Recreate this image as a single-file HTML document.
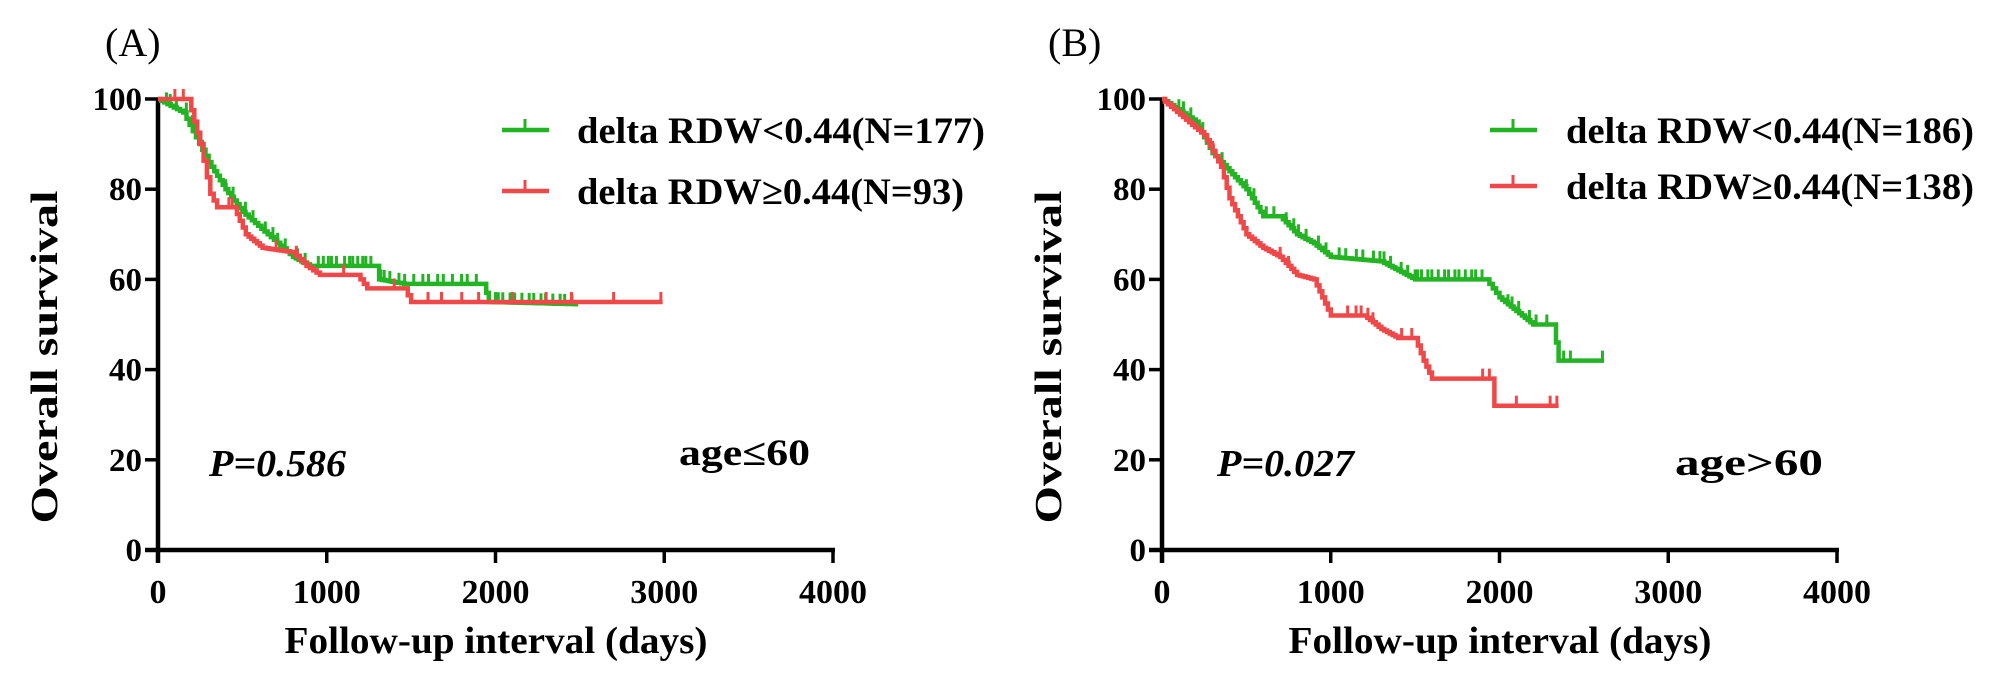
<!DOCTYPE html>
<html><head><meta charset="utf-8">
<style>
html,body{margin:0;padding:0;background:#fff;}
svg{display:block;}
text{font-family:"Liberation Serif",serif;fill:#000;}
.b{font-weight:bold;}
</style></head>
<body>
<svg id="s" width="2008" height="692" viewBox="0 0 2008 692" xmlns="http://www.w3.org/2000/svg">
<g id="g"></g>
<text x="105" y="56" font-size="40">(A)</text>
<text x="1048" y="56" font-size="40">(B)</text>
<!-- legend A -->
<line x1="502" y1="130" x2="549" y2="130" stroke="#22b422" stroke-width="4.5"/><line x1="525" y1="130" x2="525" y2="119" stroke="#22b422" stroke-width="3"/>
<line x1="502" y1="191" x2="549" y2="191" stroke="#f04848" stroke-width="4.5"/><line x1="525" y1="191" x2="525" y2="180" stroke="#f04848" stroke-width="3"/>
<text class="b" x="577" y="143" font-size="37" textLength="408" lengthAdjust="spacingAndGlyphs">delta RDW&lt;0.44(N=177)</text>
<text class="b" x="577" y="204" font-size="37" textLength="387" lengthAdjust="spacingAndGlyphs">delta RDW≥0.44(N=93)</text>
<!-- legend B -->
<line x1="1490" y1="130" x2="1537" y2="130" stroke="#22b422" stroke-width="4.5"/><line x1="1513" y1="130" x2="1513" y2="119" stroke="#22b422" stroke-width="3"/>
<line x1="1490" y1="186" x2="1537" y2="186" stroke="#f04848" stroke-width="4.5"/><line x1="1513" y1="186" x2="1513" y2="175" stroke="#f04848" stroke-width="3"/>
<text class="b" x="1566" y="143" font-size="37" textLength="408" lengthAdjust="spacingAndGlyphs">delta RDW&lt;0.44(N=186)</text>
<text class="b" x="1566" y="199" font-size="37" textLength="408" lengthAdjust="spacingAndGlyphs">delta RDW≥0.44(N=138)</text>
<text class="b" x="209" y="476" font-size="38" font-style="italic" textLength="137" lengthAdjust="spacingAndGlyphs">P=0.586</text>
<text class="b" x="679" y="465" font-size="37" textLength="131" lengthAdjust="spacingAndGlyphs">age≤60</text>
<text class="b" x="1217" y="476" font-size="38" font-style="italic" textLength="137" lengthAdjust="spacingAndGlyphs">P=0.027</text>
<text class="b" x="1675" y="475" font-size="37" textLength="148" lengthAdjust="spacingAndGlyphs">age&gt;60</text>
</svg>
<script>
var g=document.getElementById('g');var NS='http://www.w3.org/2000/svg';
function el(t,a,txt){var e=document.createElementNS(NS,t);for(var k in a)e.setAttribute(k,a[k]);if(txt!==undefined)e.textContent=txt;g.appendChild(e);return e;}
function axes(x0){
 var y0=550,dy=90.2,sx=0.16875;
 el('line',{x1:x0,y1:y0+13,x2:x0,y2:98,stroke:'#000','stroke-width':4.5});
 el('line',{x1:x0-13,y1:y0,x2:x0+677,y2:y0,stroke:'#000','stroke-width':4.5});
 for(var i=0;i<=5;i++){var y=y0-i*dy;el('line',{x1:x0-13,y1:y,x2:x0,y2:y,stroke:'#000','stroke-width':3.5});
  el('text',{x:x0-16,y:y+11,'font-size':33,'text-anchor':'end','class':'b'},String(i*20));}
 for(var j=0;j<=4;j++){var x=x0+j*1000*sx;el('line',{x1:x,y1:y0,x2:x,y2:y0+13,stroke:'#000','stroke-width':3.5});
  var t=String(j*1000);
  var a={x:x,y:603,'font-size':34,'text-anchor':'middle','class':'b'};
  if(t.length==4){a.textLength=68;a.lengthAdjust='spacingAndGlyphs';}
  el('text',a,t);}
 el('text',{x:x0+338,y:653,'font-size':38,'text-anchor':'middle','class':'b',textLength:423,lengthAdjust:'spacingAndGlyphs'},'Follow-up interval (days)');
 var cx=x0-101,cy=357;el('text',{x:cx,y:cy,'font-size':38,'text-anchor':'middle','class':'b',textLength:333,lengthAdjust:'spacingAndGlyphs',transform:'rotate(-90 '+cx+' '+cy+')'},'Overall survival');
}
function curve(x0,knots,col,end,ticks){
 var sx=0.16875,X=function(d){return x0+d*sx},Y=function(s){return 550-s*4.51};
 var d='M'+X(0)+' '+Y(100),step=18;
 for(var k=1;k<knots.length;k++){var a=knots[k-1],b=knots[k];
  if(a[1]==b[1]){continue;}
  var n=Math.max(1,Math.round((b[0]-a[0])/step));
  for(var i=1;i<=n;i++){var t=a[0]+(b[0]-a[0])*i/n,s=a[1]+(b[1]-a[1])*i/n;
   d+=' H'+X(t).toFixed(1)+' V'+Y(s).toFixed(1);}
 }
 d+=' H'+X(end).toFixed(1);
 el('path',{d:d,fill:'none',stroke:col,'stroke-width':4.5,'stroke-linejoin':'miter'});
 function sAt(t){var s=100;for(var k=1;k<knots.length;k++){var a=knots[k-1],b=knots[k];if(t>=b[0])s=b[1];else if(t>a[0]){var n=Math.max(1,Math.round((b[0]-a[0])/step));var i=Math.floor((t-a[0])/(b[0]-a[0])*n);s=a[1]+(b[1]-a[1])*i/n;break;}else break;}return s;}
 ticks.forEach(function(t){var y=Y(sAt(t));el('line',{x1:X(t),y1:y,x2:X(t),y2:y-10,stroke:col,'stroke-width':3});});
}
function rng(a,b,n){var r=[];for(var i=0;i<n;i++)r.push(a+(b-a)*((i*0.618)%1));return r;}
axes(158);axes(1162);
curve(158,[[0,100],[150,97],[300,86],[400,80],[500,75],[650,70],[800,65],[900,63],[1290,63],[1310,60],[1460,59],[1930,59],[1960,55],[2480,54.5]],'#22b422',2490,
 rng(50,300,6).concat(rng(400,900,10),rng(950,1280,12),rng(1320,1920,14),rng(2000,2480,14)));
curve(158,[[0,100],[180,100],[250,90],[310,79],[350,76],[450,76],[520,70],[620,67],[800,66],[880,63],[960,61],[1180,61],[1240,58],[1460,58],[1500,55],[2990,55]],'#f04848',2990,
 [100,150,420,440,700,820,1100,1400,1600,1680,1800,1900,2100,2300,2450,2700,2980]);
curve(1162,[[0,100],[200,95],[300,88],[400,84],[500,80],[600,74],[700,74],[800,70],[900,68],[1000,65],[1300,64],[1400,62],[1500,60],[1920,60],[2000,56],[2100,53],[2200,50],[2320,50],[2350,42],[2620,42]],'#22b422',2620,
 rng(100,400,6).concat(rng(500,1000,10),rng(1050,1480,10),rng(1500,1920,14),rng(2050,2320,6),[2380,2420,2610]));
curve(1162,[[0,100],[250,92],[350,85],[400,78],[500,70],[600,67],[700,65],[800,61],[900,60],[950,56],[1000,52],[1200,52],[1300,49],[1400,47],[1500,47],[1550,42],[1600,38],[1950,38],[1970,32],[2350,32]],'#f04848',2350,
 [300,700,750,1100,1150,1180,1220,1250,1420,1480,1900,1940,2100,2300,2340]);
</script>
</body></html>
